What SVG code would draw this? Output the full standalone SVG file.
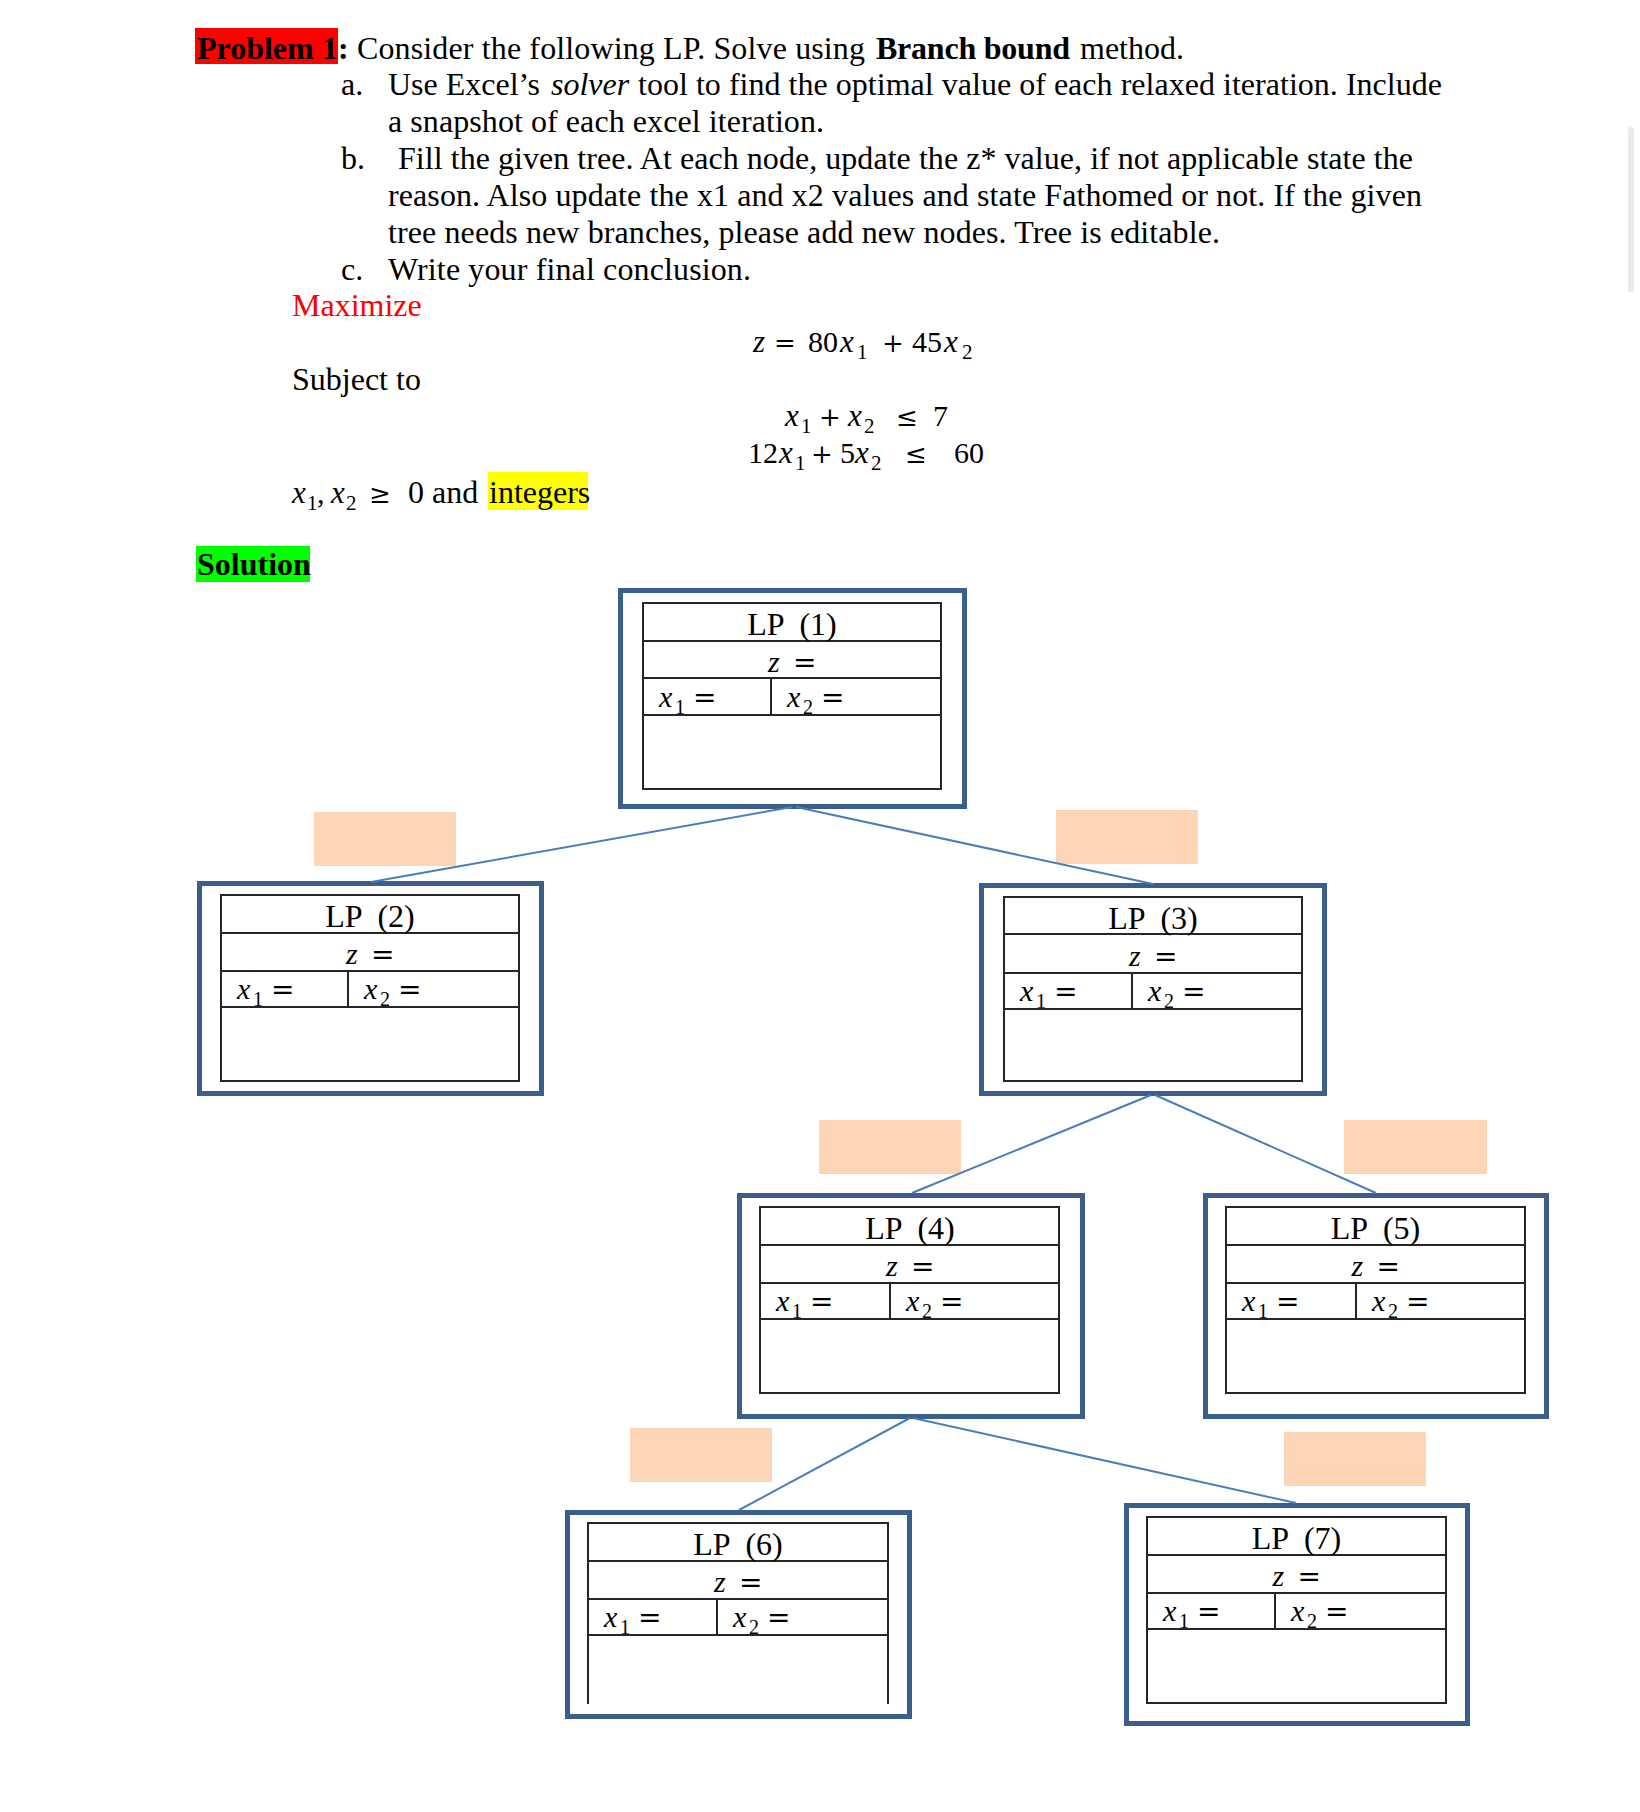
<svg xmlns="http://www.w3.org/2000/svg" width="1640" height="1812" viewBox="0 0 1640 1812">
<style>
.t{font-family:"Liberation Serif","Times New Roman",serif;font-size:32px;fill:#000}
.b{font-weight:bold}
.it{font-style:italic}
.red{fill:#FF0000}
.mv{font-family:"Liberation Serif","Times New Roman",serif;font-style:italic;font-size:31px;fill:#000}
.md{font-family:"Liberation Serif","Times New Roman",serif;font-size:30px;fill:#000}
.ms{font-family:"Liberation Serif","Times New Roman",serif;font-size:21px;fill:#000}
.mo{font-family:"DejaVu Serif",serif;font-size:26px;fill:#000}
.nv{font-family:"Liberation Serif","Times New Roman",serif;font-style:italic;font-size:30px;fill:#000}
.ns{font-family:"Liberation Serif","Times New Roman",serif;font-size:20px;fill:#000}
.no{font-family:"DejaVu Serif",serif;font-size:28px;fill:#000}
.title{font-family:"Liberation Serif","Times New Roman",serif;font-size:32px;fill:#000;text-anchor:middle}
.outer{fill:none;stroke:#3B5E8C;stroke-width:5}
.tbl{fill:none;stroke:#262626;stroke-width:2}
.peach{fill:#FBD5B5}
.conn line{stroke:#4A7EBB;stroke-width:2;fill:none}
</style>
<rect width="1640" height="1812" fill="#FFFFFF"/>
<rect x="1628" y="127" width="6" height="165" rx="3" fill="#EBEBEB"/>

<g id="problem">
<rect x="195" y="28" width="143" height="36" fill="#FF0000"/>
<text class="t b" x="197" y="59">Problem 1</text>
<text class="t b" x="338" y="59">:</text>
<text class="t" x="357" y="59" textLength="508">Consider the following LP. Solve using</text>
<text class="t b" x="876" y="59" textLength="194">Branch bound</text>
<text class="t" x="1080" y="59">method.</text>

<text class="t" x="341" y="95">a.</text>
<text class="t" x="388" y="95">Use Excel’s</text>
<text class="t it" x="551" y="95">solver</text>
<text class="t" x="638" y="95" textLength="804">tool to find the optimal value of each relaxed iteration. Include</text>
<text class="t" x="388" y="132" textLength="436">a snapshot of each excel iteration.</text>

<text class="t" x="341" y="169">b.</text>
<text class="t" x="398" y="169" textLength="1015">Fill the given tree. At each node, update the z* value, if not applicable state the</text>
<text class="t" x="388" y="206" textLength="1034">reason. Also update the x1 and x2 values and state Fathomed or not. If the given</text>
<text class="t" x="388" y="243" textLength="832">tree needs new branches, please add new nodes. Tree is editable.</text>

<text class="t" x="341" y="280">c.</text>
<text class="t" x="388" y="280" textLength="363">Write your final conclusion.</text>

<text class="t red" x="292" y="316">Maximize</text>
<text class="t" x="292" y="390">Subject to</text>

<!-- objective -->
<text class="mv" x="753" y="352">z</text>
<text class="mo" x="774" y="352">=</text>
<text class="md" x="808" y="352">80</text>
<text class="mv" x="840" y="352">x</text>
<text class="ms" x="857" y="359">1</text>
<text class="mo" x="882" y="352">+</text>
<text class="md" x="912" y="352">45</text>
<text class="mv" x="944" y="352">x</text>
<text class="ms" x="962" y="359">2</text>

<!-- constraint 1 -->
<text class="mv" x="785" y="426">x</text>
<text class="ms" x="801" y="433">1</text>
<text class="mo" x="819" y="426">+</text>
<text class="mv" x="848" y="426">x</text>
<text class="ms" x="864" y="433">2</text>
<text class="mo" x="896" y="426">≤</text>
<text class="md" x="933" y="426">7</text>

<!-- constraint 2 -->
<text class="md" x="748" y="463">12</text>
<text class="mv" x="779" y="463">x</text>
<text class="ms" x="795" y="470">1</text>
<text class="mo" x="811" y="463">+</text>
<text class="md" x="840" y="463">5</text>
<text class="mv" x="855" y="463">x</text>
<text class="ms" x="871" y="470">2</text>
<text class="mo" x="905" y="463">≤</text>
<text class="md" x="954" y="463">60</text>

<!-- nonnegativity -->
<rect x="488" y="472" width="100" height="38" fill="#FFFF00"/>
<text class="mv" x="292" y="503">x</text>
<text class="ms" x="307" y="510">1</text>
<text class="md" x="317" y="503">,</text>
<text class="mv" x="331" y="503">x</text>
<text class="ms" x="346" y="510">2</text>
<text class="mo" x="369" y="503">≥</text>
<text class="t" x="408" y="503">0 and</text>
<text class="t" x="489" y="503">integers</text>

<rect x="196" y="546" width="114" height="36" fill="#00FF00"/>
<text class="t b" x="197" y="575">Solution</text>
</g>

<g id="branch-labels">
<rect class="peach" x="314" y="812" width="142" height="54"/>
<rect class="peach" x="1056" y="810" width="142" height="54"/>
<rect class="peach" x="819" y="1120" width="142" height="54"/>
<rect class="peach" x="1344" y="1120" width="143" height="54"/>
<rect class="peach" x="630" y="1428" width="142" height="54"/>
<rect class="peach" x="1284" y="1432" width="142" height="54"/>
</g>

<g id="lp1">
<rect class="outer" x="620.5" y="590.5" width="344" height="216"/>
<rect class="tbl" x="643" y="603" width="298" height="186"/>
<path class="tbl" d="M643 641H941M643 678H941M643 715H941M771 678V715"/>
<text class="title" x="792" y="635" xml:space="preserve">LP  (1)</text>
<text class="nv" x="768" y="672">z</text><text class="no" x="793" y="672">=</text>
<text class="nv" x="659" y="707">x</text><text class="ns" x="675" y="714">1</text><text class="no" x="693" y="707">=</text>
<text class="nv" x="787" y="707">x</text><text class="ns" x="803" y="714">2</text><text class="no" x="821" y="707">=</text>
</g>

<g id="lp2">
<rect class="outer" x="199.5" y="883.5" width="342" height="210"/>
<rect class="tbl" x="221" y="895" width="298" height="186"/>
<path class="tbl" d="M221 933H519M221 971H519M221 1007H519M348 971V1007"/>
<text class="title" x="370" y="927" xml:space="preserve">LP  (2)</text>
<text class="nv" x="346" y="964">z</text><text class="no" x="371" y="964">=</text>
<text class="nv" x="237" y="999">x</text><text class="ns" x="253" y="1006">1</text><text class="no" x="271" y="999">=</text>
<text class="nv" x="364" y="999">x</text><text class="ns" x="380" y="1006">2</text><text class="no" x="398" y="999">=</text>
</g>

<g id="lp3">
<rect class="outer" x="981.5" y="885.5" width="343" height="208"/>
<rect class="tbl" x="1004" y="897" width="298" height="184"/>
<path class="tbl" d="M1004 934H1302M1004 973H1302M1004 1009H1302M1132 973V1009"/>
<text class="title" x="1153" y="929" xml:space="preserve">LP  (3)</text>
<text class="nv" x="1129" y="966">z</text><text class="no" x="1154" y="966">=</text>
<text class="nv" x="1020" y="1001">x</text><text class="ns" x="1036" y="1008">1</text><text class="no" x="1054" y="1001">=</text>
<text class="nv" x="1148" y="1001">x</text><text class="ns" x="1164" y="1008">2</text><text class="no" x="1182" y="1001">=</text>
</g>

<g id="lp4">
<rect class="outer" x="739.5" y="1195.5" width="343" height="221"/>
<rect class="tbl" x="760" y="1207" width="299" height="186"/>
<path class="tbl" d="M760 1245H1059M760 1283H1059M760 1319H1059M890 1283V1319"/>
<text class="title" x="910" y="1239" xml:space="preserve">LP  (4)</text>
<text class="nv" x="886" y="1276">z</text><text class="no" x="911" y="1276">=</text>
<text class="nv" x="776" y="1311">x</text><text class="ns" x="792" y="1318">1</text><text class="no" x="810" y="1311">=</text>
<text class="nv" x="906" y="1311">x</text><text class="ns" x="922" y="1318">2</text><text class="no" x="940" y="1311">=</text>
</g>

<g id="lp5">
<rect class="outer" x="1205.5" y="1195.5" width="341" height="221"/>
<rect class="tbl" x="1226" y="1207" width="299" height="186"/>
<path class="tbl" d="M1226 1245H1525M1226 1283H1525M1226 1319H1525M1356 1283V1319"/>
<text class="title" x="1375.5" y="1239" xml:space="preserve">LP  (5)</text>
<text class="nv" x="1351.5" y="1276">z</text><text class="no" x="1376.5" y="1276">=</text>
<text class="nv" x="1242" y="1311">x</text><text class="ns" x="1258" y="1318">1</text><text class="no" x="1276" y="1311">=</text>
<text class="nv" x="1372" y="1311">x</text><text class="ns" x="1388" y="1318">2</text><text class="no" x="1406" y="1311">=</text>
</g>

<g id="lp6">
<rect class="outer" x="567.5" y="1512.5" width="342" height="204"/>
<path class="tbl" d="M588 1704V1523H888V1704M588 1561H888M588 1599H888M588 1635H888M717 1599V1635"/>
<text class="title" x="738" y="1555" xml:space="preserve">LP  (6)</text>
<text class="nv" x="714" y="1592">z</text><text class="no" x="739" y="1592">=</text>
<text class="nv" x="604" y="1627">x</text><text class="ns" x="620" y="1634">1</text><text class="no" x="638" y="1627">=</text>
<text class="nv" x="733" y="1627">x</text><text class="ns" x="749" y="1634">2</text><text class="no" x="767" y="1627">=</text>
</g>

<g id="lp7">
<rect class="outer" x="1126.5" y="1505.5" width="341" height="218"/>
<rect class="tbl" x="1147" y="1517" width="299" height="186"/>
<path class="tbl" d="M1147 1555H1446M1147 1593H1446M1147 1629H1446M1275 1593V1629"/>
<text class="title" x="1296.5" y="1549" xml:space="preserve">LP  (7)</text>
<text class="nv" x="1272.5" y="1586">z</text><text class="no" x="1297.5" y="1586">=</text>
<text class="nv" x="1163" y="1621">x</text><text class="ns" x="1179" y="1628">1</text><text class="no" x="1197" y="1621">=</text>
<text class="nv" x="1291" y="1621">x</text><text class="ns" x="1307" y="1628">2</text><text class="no" x="1325" y="1621">=</text>
</g>

<g id="connectors" class="conn">
<line x1="792" y1="807" x2="371" y2="882"/>
<line x1="796" y1="807" x2="1153" y2="884"/>
<line x1="1151" y1="1095" x2="912" y2="1193"/>
<line x1="1155" y1="1095" x2="1376" y2="1193"/>
<line x1="910" y1="1418" x2="739" y2="1510"/>
<line x1="913" y1="1418" x2="1296" y2="1503"/>
</g>
</svg>
